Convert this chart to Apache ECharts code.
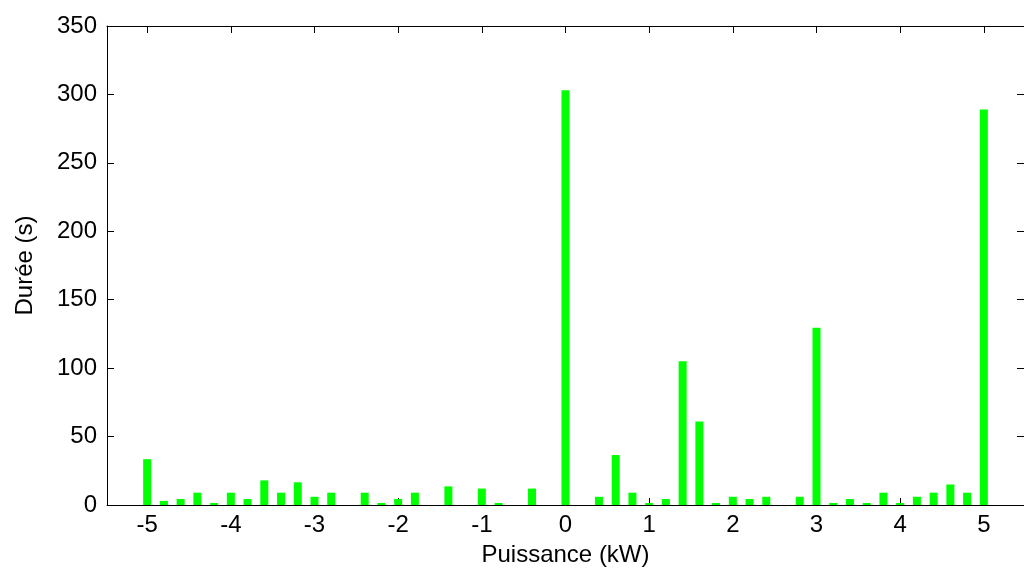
<!DOCTYPE html>
<html>
<head>
<meta charset="utf-8">
<script src="https://cdn.jsdelivr.net/npm/echarts@6/dist/echarts.min.js"></script>
<style>html,body{margin:0;padding:0;background:#fff}#c{width:1024px;height:572px}</style>
</head>
<body>
<div id="c"></div>
<script>
// Power bins (kW) and durations (s)
const powers = [-5,-4.8,-4.6,-4.4,-4.2,-4,-3.8,-3.6,-3.4,-3.2,-3,-2.8,-2.6,-2.4,-2.2,-2,-1.8,-1.6,-1.4,-1.2,-1,-0.8,-0.6,-0.4,-0.2,0,0.2,0.4,0.6,0.8,1,1.2,1.4,1.6,1.8,2,2.2,2.4,2.6,2.8,3,3.2,3.4,3.6,3.8,4,4.2,4.4,4.6,4.8,5];
const durations = [33.5,3,4.4,9,1.5,9,4.4,18,9,16.6,6,9,0,9,1.5,4.4,9,0,13.6,0,12,1.5,0,12,0,303,0,6,36.5,9,1.5,4.4,105,61,1.5,6,4.4,6,0,6,129.5,1.5,4.4,1.5,9,1.5,6,9,15,9,289];
const xTicks = [-5,-4,-3,-2,-1,0,1,2,3,4,5];
const yTicks = [0,50,100,150,200,250,300,350];

const font = 'Liberation Sans, Arial, sans-serif';
const fs = 24;
const chart = echarts.init(document.getElementById('c'), null, {renderer:'canvas'});
const xMin = -5.48, xMax = 5.48;
chart.setOption({
  animation:false,
  backgroundColor:'#fff',
  grid:{left:107, top:26, bottom:67, right:-6, containLabel:false},
  xAxis:[{
    type:'value', min:xMin, max:xMax, position:'bottom',
    name:'Puissance (kW)', nameLocation:'middle', nameGap:38,
    nameTextStyle:{fontFamily:font, fontSize:fs, color:'#000'},
    axisLine:{show:true, onZero:false, lineStyle:{color:'#000', width:1}},
    axisTick:{show:true, inside:true, length:7, customValues:xTicks, lineStyle:{color:'#000'}},
    axisLabel:{customValues:xTicks, fontFamily:font, fontSize:fs, color:'#000', margin:8},
    splitLine:{show:false}
  },{
    type:'value', min:xMin, max:xMax, position:'top',
    axisLine:{show:true, onZero:false, lineStyle:{color:'#000', width:1}},
    axisTick:{show:true, inside:true, length:7, customValues:xTicks, lineStyle:{color:'#000'}},
    axisLabel:{show:false}, splitLine:{show:false}
  }],
  yAxis:[{
    type:'value', min:0, max:350, interval:50, position:'left',
    name:'Durée (s)', nameLocation:'middle', nameGap:70, nameRotate:90,
    nameTextStyle:{fontFamily:font, fontSize:fs, color:'#000'},
    axisLine:{show:true, onZero:false, lineStyle:{color:'#000', width:1}},
    axisTick:{show:true, inside:true, length:7, customValues:yTicks, lineStyle:{color:'#000'}},
    axisLabel:{customValues:yTicks, fontFamily:font, fontSize:fs, color:'#000', margin:10},
    splitLine:{show:false}
  },{
    type:'value', min:0, max:350, interval:50, position:'right',
    axisLine:{show:true, onZero:false, lineStyle:{color:'#000', width:1}},
    axisTick:{show:true, inside:true, length:7, lineStyle:{color:'#000'}},
    axisLabel:{show:false}, splitLine:{show:false}
  }],
  series:[{
    type:'bar',
    xAxisIndex:0, yAxisIndex:0,
    barWidth:8,
    itemStyle:{color:'#00ff00'},
    data: powers.map((p,i)=>[p, durations[i]])
  }]
});
</script>
</body>
</html>
